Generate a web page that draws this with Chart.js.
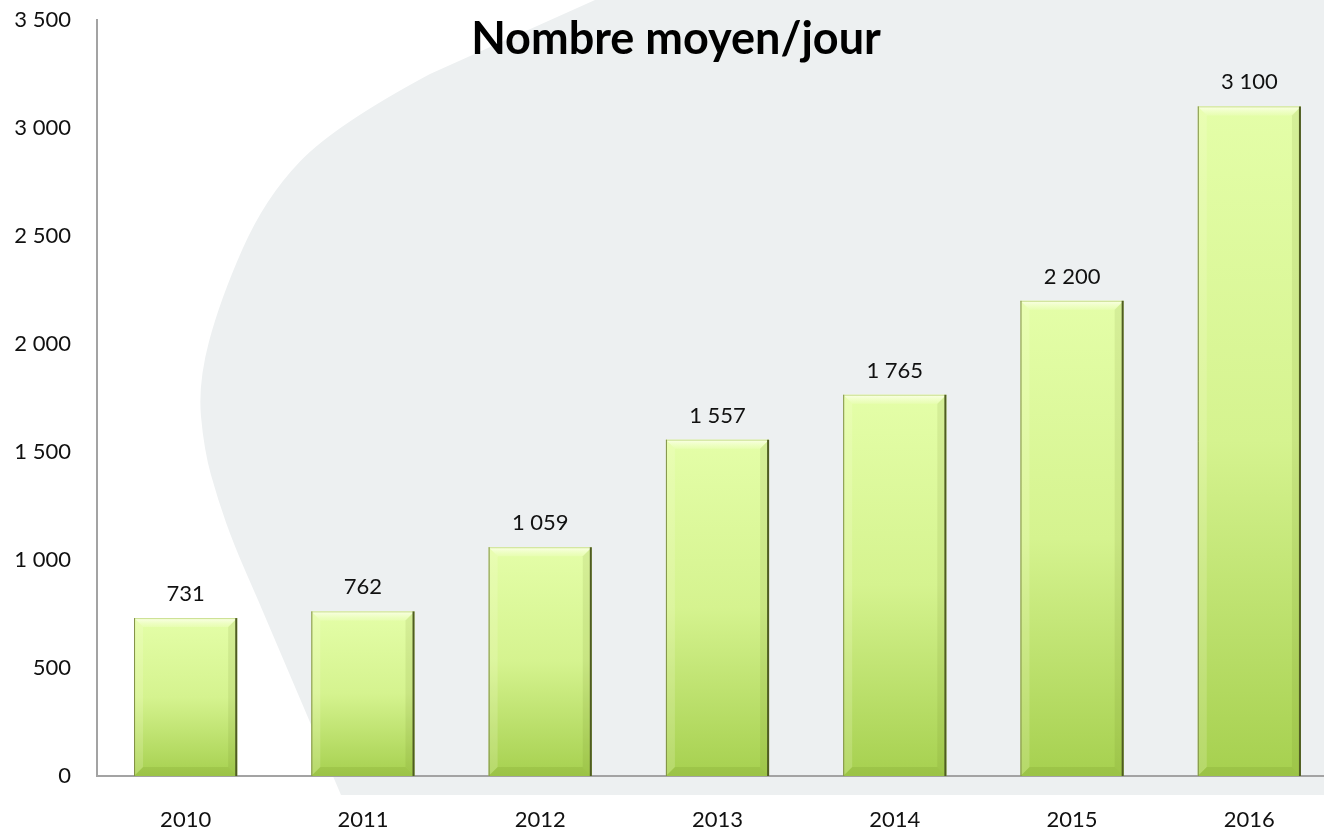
<!DOCTYPE html>
<html>
<head>
<meta charset="utf-8">
<script src="https://cdn.jsdelivr.net/npm/chart.js@4/dist/chart.umd.min.js"></script>
<style>
  html, body { margin: 0; padding: 0; background: #ffffff; overflow: hidden; width: 1324px; height: 832px; }
  #wrap { position: absolute; left: 0; top: 0; width: 1338px; height: 832px; }
</style>
</head>
<body>
<div id="wrap"><canvas id="c" width="1338" height="832"></canvas></div>
<script>
// ---- Data ----
const categories = ['2010', '2011', '2012', '2013', '2014', '2015', '2016'];
const values = [731, 762, 1059, 1557, 1765, 2200, 3100];
const yTicks = [0, 500, 1000, 1500, 2000, 2500, 3000, 3500];
const chartTitle = 'Nombre moyen/jour';

const FONT = 'Lato, "Open Sans", sans-serif';
const fmt = v => String(v).replace(/\B(?=(\d{3})+(?!\d))/g, ' ');

// decorative background shape + title
const backdrop = {
  id: 'backdrop',
  beforeDraw(chart) {
    const ctx = chart.ctx;
    ctx.save();
    ctx.fillStyle = '#edf0f1';
    const pts = [[430, 74], [335, 125], [265, 198], [220, 300], [198, 383], [204, 450], [218, 500], [234, 545], [258, 600]];
    ctx.beginPath();
    ctx.moveTo(1400, 0);
    ctx.lineTo(595, 0);
    ctx.lineTo(pts[0][0], pts[0][1]);
    for (let i = 1; i < pts.length - 1; i++) {
      const mx = (pts[i][0] + pts[i + 1][0]) / 2, my = (pts[i][1] + pts[i + 1][1]) / 2;
      ctx.quadraticCurveTo(pts[i][0], pts[i][1], mx, my);
    }
    ctx.lineTo(pts[pts.length - 1][0], pts[pts.length - 1][1]);
    ctx.lineTo(341, 795);
    ctx.lineTo(1400, 795);
    ctx.closePath();
    ctx.fill();
    // title
    ctx.fillStyle = '#000000';
    ctx.font = 'bold 45px ' + FONT;
    ctx.textAlign = 'center';
    ctx.textBaseline = 'alphabetic';
    ctx.fillText(chartTitle, 676, 54);
    ctx.restore();
  }
};

// bevel + value labels
const bevel = {
  id: 'bevel',
  afterDatasetsDraw(chart) {
    const ctx = chart.ctx;
    const meta = chart.getDatasetMeta(0);
    ctx.save();
    meta.data.forEach((el, i) => {
      const p = el.getProps(['x', 'y', 'base', 'width'], true);
      const x0 = p.x - p.width / 2, x1 = p.x + p.width / 2, top = p.y, bot = p.base;
      const b = 9;
      // top bevel
      let g = ctx.createLinearGradient(0, top, 0, top + b);
      g.addColorStop(0, 'rgba(252,255,235,0.95)');
      g.addColorStop(1, 'rgba(240,255,200,0.35)');
      ctx.fillStyle = g;
      ctx.beginPath();
      ctx.moveTo(x0, top); ctx.lineTo(x1, top); ctx.lineTo(x1 - b, top + b); ctx.lineTo(x0 + b, top + b); ctx.closePath();
      ctx.fill();
      // left bevel
      ctx.fillStyle = 'rgba(255,255,230,0.18)';
      ctx.beginPath();
      ctx.moveTo(x0, top); ctx.lineTo(x0 + b, top + b); ctx.lineTo(x0 + b, bot - b); ctx.lineTo(x0, bot); ctx.closePath();
      ctx.fill();
      // right bevel
      ctx.fillStyle = 'rgba(90,110,20,0.10)';
      ctx.beginPath();
      ctx.moveTo(x1, top); ctx.lineTo(x1 - b, top + b); ctx.lineTo(x1 - b, bot - b); ctx.lineTo(x1, bot); ctx.closePath();
      ctx.fill();
      // bottom bevel
      ctx.fillStyle = 'rgba(80,110,10,0.12)';
      ctx.beginPath();
      ctx.moveTo(x0, bot); ctx.lineTo(x0 + b, bot - b); ctx.lineTo(x1 - b, bot - b); ctx.lineTo(x1, bot); ctx.closePath();
      ctx.fill();
      // edges
      ctx.lineWidth = 1;
      ctx.strokeStyle = '#c9df8e';
      ctx.beginPath(); ctx.moveTo(x0, top + 0.5); ctx.lineTo(x1, top + 0.5); ctx.stroke();
      ctx.strokeStyle = '#7f8f45';
      ctx.beginPath(); ctx.moveTo(x0 + 0.5, top); ctx.lineTo(x0 + 0.5, bot); ctx.stroke();
      ctx.lineWidth = 2;
      ctx.strokeStyle = '#4f5c22';
      ctx.beginPath(); ctx.moveTo(x1 - 1, top); ctx.lineTo(x1 - 1, bot); ctx.stroke();
      // value label
      ctx.fillStyle = '#111111';
      ctx.font = '22px ' + FONT;
      ctx.textAlign = 'center';
      ctx.textBaseline = 'alphabetic';
      ctx.fillText(fmt(values[i]), p.x, top - 17);
    });
    ctx.restore();
  }
};

new Chart(document.getElementById('c'), {
  type: 'bar',
  data: {
    labels: categories,
    datasets: [{
      data: values,
      barPercentage: 0.582,
      categoryPercentage: 1.0,
      borderWidth: 0,
      backgroundColor: (c) => {
        const ch = c.chart;
        const ys = ch.scales && ch.scales.y;
        if (!ys || c.type !== 'data' || !ch.chartArea) return '#d4f38c';
        const top = ys.getPixelForValue(c.raw);
        const bot = ys.getPixelForValue(0);
        const g = ch.ctx.createLinearGradient(0, top, 0, bot);
        g.addColorStop(0, '#e4fea8');
        g.addColorStop(0.5, '#d5f38f');
        g.addColorStop(1, '#a6d04f');
        return g;
      }
    }]
  },
  options: {
    responsive: false,
    animation: false,
    devicePixelRatio: 1,
    layout: { padding: { top: 20, right: 0, bottom: 0, left: 0 } },
    plugins: {
      legend: { display: false },
      title: { display: false },
      tooltip: { enabled: false }
    },
    scales: {
      x: {
        grid: { display: false, drawTicks: false },
        border: { display: true, color: '#a3a3a3', width: 2 },
        ticks: { color: '#111111', font: { family: FONT, size: 22 }, padding: 31 },
        afterFit: (s) => { s.height = 56; s.paddingLeft = 0; s.paddingRight = 0; }
      },
      y: {
        min: 0,
        max: 3500,
        grid: { display: false, drawTicks: false },
        border: { display: true, color: '#a3a3a3', width: 2 },
        afterBuildTicks: (s) => { s.ticks = yTicks.map(v => ({ value: v })); },
        ticks: { color: '#111111', font: { family: FONT, size: 22 }, padding: 26, callback: (v) => fmt(v) },
        afterFit: (s) => { s.width = 97; s.paddingTop = 0; s.paddingBottom = 0; }
      }
    }
  },
  plugins: [backdrop, bevel]
});
</script>
</body>
</html>
